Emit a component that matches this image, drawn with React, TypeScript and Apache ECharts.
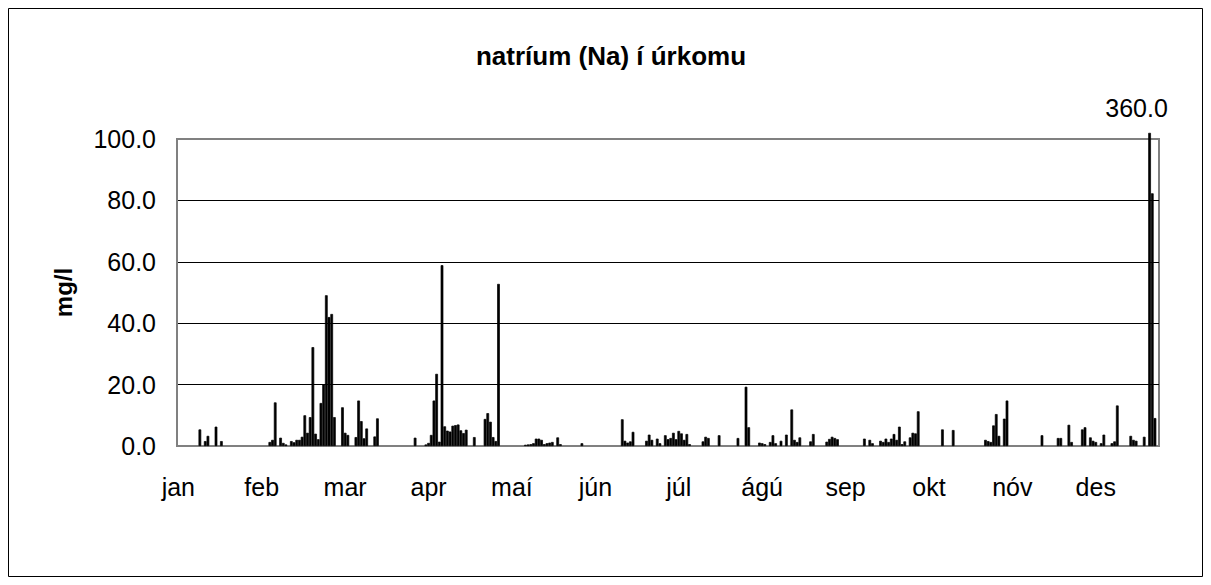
import React, { useEffect, useRef } from "react";
import * as echarts from "echarts";

// Day-of-year index (0 = 1 Jan) of each measurement and the sodium value (mg/l)
const measuredDay = [
  8, 10, 11, 14, 16,
  34, 35, 36, 38, 39, 40, 42, 43, 44, 45, 46, 47, 48, 49, 50, 51, 52, 53, 54, 55, 56, 57, 58,
  61, 62, 63, 66, 67, 68, 69, 70, 73, 74, 88,
  92, 93, 94, 95, 96, 97, 98, 99, 100, 101, 102, 103, 104, 105, 106, 107, 110, 114, 115, 116, 117, 118, 119,
  129, 130, 131, 132, 133, 134, 135, 136, 137, 138, 139, 141, 142, 150,
  165, 166, 167, 168, 169, 174, 175, 176, 178, 179,
  181, 182, 183, 184, 185, 186, 187, 188, 189, 190, 195, 196, 197, 201, 208, 211,
  212, 216, 217, 218, 220, 221, 222, 224, 226, 228, 229, 230, 231, 235, 236, 241, 242,
  243, 244, 245, 255, 257, 258, 261, 262, 263, 264, 265, 266, 267, 268, 269, 270, 272,
  273, 274, 275, 284, 288, 300, 301, 302, 303,
  304, 305, 307, 308, 321, 327, 328, 331, 332,
  336, 337, 339, 340, 341, 343, 344, 347, 348, 349, 354, 355, 356, 359, 361, 362, 363,
];

const naValue = [
  5.4, 1.6, 3.3, 6.3, 1.6,
  1.3, 2.0, 14.2, 2.7, 1.0, 0.5, 1.6, 1.2, 2.0, 2.0, 3.0, 10.0, 4.3, 9.4, 32.2, 4.0, 2.2, 14.0, 20.0, 49.1, 42.0, 43.0, 9.4,
  12.6, 4.3, 3.6, 2.9, 14.8, 8.1, 2.5, 5.7, 3.1, 9.0, 2.7,
  0.5, 1.0, 3.6, 14.8, 23.5, 1.4, 58.9, 6.4, 5.0, 4.7, 6.6, 6.8, 7.0, 5.1, 4.2, 5.3, 2.9, 8.8, 10.7, 7.9, 2.9, 1.6, 52.8,
  0.4, 0.5, 0.6, 0.9, 2.4, 2.4, 2.0, 0.6, 0.9, 1.1, 1.3, 2.8, 0.6, 0.9,
  8.7, 1.7, 1.1, 1.5, 4.6, 1.7, 3.7, 2.0, 2.4, 0.9,
  3.5, 2.2, 2.6, 4.3, 2.2, 4.9, 4.1, 2.0, 3.9, 0.6, 1.5, 3.0, 2.6, 3.5, 2.6, 19.3,
  6.1, 1.1, 0.9, 0.6, 1.3, 3.5, 0.9, 1.7, 3.7, 11.9, 2.0, 1.3, 2.8, 1.5, 3.9, 1.4, 2.3,
  3.0, 2.6, 2.2, 2.4, 2.0, 0.9, 1.7, 1.3, 2.4, 1.3, 2.4, 3.9, 2.0, 6.3, 0.6, 1.5, 2.8,
  4.3, 4.1, 11.3, 5.4, 5.2, 2.0, 1.6, 1.3, 6.7,
  10.4, 3.3, 8.9, 14.8, 3.5, 2.6, 2.6, 6.9, 1.3,
  5.4, 6.1, 2.8, 1.7, 1.3, 0.9, 3.7, 0.9, 1.5, 13.2, 3.3, 2.0, 1.7, 3.0, 360.0, 82.3, 9.1,
];

const monthLabels = ["jan", "feb", "mar", "apr", "maí", "jún", "júl", "ágú", "sep", "okt", "nóv", "des"];
const yTicks = [0, 20, 40, 60, 80, 100];
const dayCount = 365;
const labelEvery = 31;

const FONT = "'Liberation Sans', Arial, Helvetica, sans-serif";

export default function App() {
  const ref = useRef<HTMLDivElement>(null);

  useEffect(() => {
    if (!ref.current) return;
    const chart = echarts.init(ref.current, undefined, { renderer: "svg" });

    const yMax = yTicks[yTicks.length - 1];
    const cap = yMax * 1.02;
    const categories = Array.from({ length: dayCount }, (_, i) => String(i));
    const values: (number | null)[] = Array.from({ length: dayCount }, () => null);
    measuredDay.forEach((d, k) => {
      values[d] = naValue[k];
    });
    const data = values.map((v) => {
      if (v == null) return null;
      if (v > yMax) {
        return {
          value: Math.min(v, cap),
          label: {
            show: true,
            position: "top",
            distance: 12,
            offset: [-13, 0],
            formatter: v.toFixed(1),
            fontSize: 25,
            color: "#000",
            fontFamily: FONT,
          },
        };
      }
      return v;
    });

    chart.setOption({
      animation: false,
      backgroundColor: "#fff",
      grid: {
        left: 177,
        right: 52,
        top: 139,
        bottom: 139,
        show: true,
        borderColor: "#808080",
        borderWidth: 2,
        backgroundColor: "transparent",
      },
      graphic: [
        {
          type: "rect",
          shape: { x: 8.5, y: 8.5, width: 1194, height: 568 },
          style: { fill: "none", stroke: "#000", lineWidth: 1 },
          silent: true,
        },
        {
          type: "text",
          x: 611,
          y: 56,
          style: {
            text: "natríum (Na) í úrkomu",
            fontSize: 26,
            fontWeight: "bold",
            fontFamily: FONT,
            fill: "#000",
            align: "center",
            verticalAlign: "middle",
          },
        },
      ],
      xAxis: {
        type: "category",
        data: categories,
        boundaryGap: true,
        axisLine: { show: true, lineStyle: { color: "#808080", width: 2 } },
        axisTick: { show: false },
        splitLine: { show: false },
        axisLabel: {
          interval: labelEvery - 1,
          margin: 28,
          fontSize: 25,
          color: "#000",
          fontFamily: FONT,
          formatter: (_v: string, i: number) => monthLabels[Math.floor(i / labelEvery)] ?? "",
        },
      },
      yAxis: {
        type: "value",
        min: 0,
        max: yMax,
        interval: 20,
        name: "mg/l",
        nameLocation: "middle",
        nameRotate: 90,
        nameGap: 102,
        nameTextStyle: { fontSize: 24, fontWeight: "bold", color: "#000", fontFamily: FONT },
        axisLine: { show: true, lineStyle: { color: "#808080", width: 2 } },
        axisTick: { show: false },
        splitLine: { show: true, showMinLine: false, showMaxLine: false, lineStyle: { color: "#000", width: 1 } },
        axisLabel: {
          margin: 21,
          fontSize: 25,
          color: "#000",
          fontFamily: FONT,
          formatter: (v: number) => v.toFixed(1),
        },
      },
      series: [
        {
          type: "bar",
          data,
          clip: false,
          barCategoryGap: "0%",
          itemStyle: { color: "#000", borderColor: "#000", borderWidth: 0.7 },
        },
      ],
    });

    return () => chart.dispose();
  }, []);

  return (
    <div
      ref={ref}
      style={{ position: "absolute", left: 0, top: 0, width: 1211, height: 585, background: "#fff" }}
    />
  );
}
